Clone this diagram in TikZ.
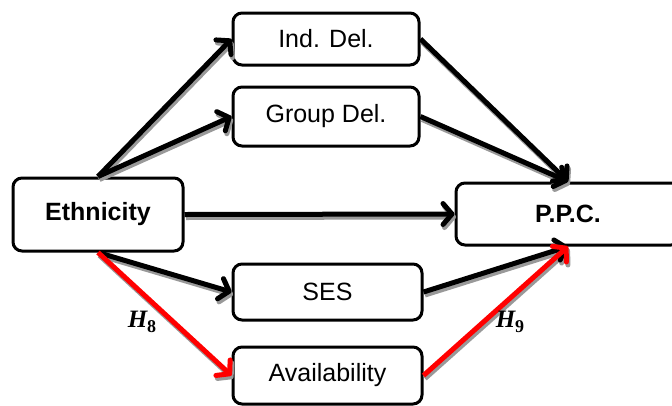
\documentclass[tikz,border=0pt]{standalone}
\usepackage{fontspec}
\setmainfont{Liberation Sans}
\newfontfamily\hypfont{Liberation Serif}
\usetikzlibrary{arrows.meta,calc}
\begin{document}
\begin{tikzpicture}[x=1pt,y=-1pt,
  box/.style={draw=black, line width=3pt, rounded corners=9pt, fill=white,
    inner sep=0pt, align=center, font=\fontsize{25}{30}\selectfont},
  boldbox/.style={box, font=\fontsize{25}{30}\selectfont\bfseries},
  tip/.style={-{Straight Barb[length=9pt,width=21pt,round]}},
  shade/.style={line width=5pt, tip, draw=black!40, transform canvas={shift={(1.5pt,-3pt)}}},
  link/.style={line width=5pt, tip, draw=black},
  redlink/.style={link, draw=red},
  hyp/.style={font=\hypfont\fontsize{25}{30}\selectfont\bfseries\itshape, inner sep=0pt}
]
\useasboundingbox (0,0) rectangle (672,405);

% boxes
\node[boldbox, minimum width=170pt, minimum height=73pt] (eth) at (98,214.5) {Ethnicity};
\node[box, minimum width=186pt, minimum height=52pt] (ind) at (326,39) {Ind. Del.};
\node[box, minimum width=186pt, minimum height=59pt] (grp) at (326,116.5) {Group Del.};
\node[box, minimum width=189pt, minimum height=56pt] (ses) at (327.5,292) {SES};
\node[box, minimum width=189pt, minimum height=57pt] (avail) at (327.5,375.5) {Availability};
\node[boldbox, minimum width=224pt, minimum height=62pt] (ppc) at (568,214) {P.P.C.};

% soft drop shadows under every connector
\foreach \s/\e in {eth.north/ind.west, eth.north/grp.west, ind.east/ppc.north,
    grp.east/ppc.north, eth.east/ppc.west, eth.south/ses.west, ses.east/ppc.south,
    eth.south/avail.west, avail.east/ppc.south}
  \draw[shade] (\s) -- (\e);

% connectors
\draw[link] (eth.north) -- (ind.west);
\draw[link] (eth.north) -- (grp.west);
\draw[link] (ind.east) -- (ppc.north);
\draw[link] (grp.east) -- (ppc.north);
\draw[link] (eth.east) -- (ppc.west);
\draw[link] (eth.south) -- (ses.west);
\draw[link] (ses.east) -- (ppc.south);
\draw[redlink] (eth.south) -- (avail.west);
\draw[redlink] (avail.east) -- (ppc.south);

% hypothesis labels
\node[hyp] (h8) at (142,322) {H\raisebox{-5pt}{\fontsize{18}{20}\selectfont\upshape 8}};
\node[hyp] (h9) at (510,322) {H\raisebox{-5pt}{\fontsize{18}{20}\selectfont\upshape 9}};
\end{tikzpicture}
\end{document}
